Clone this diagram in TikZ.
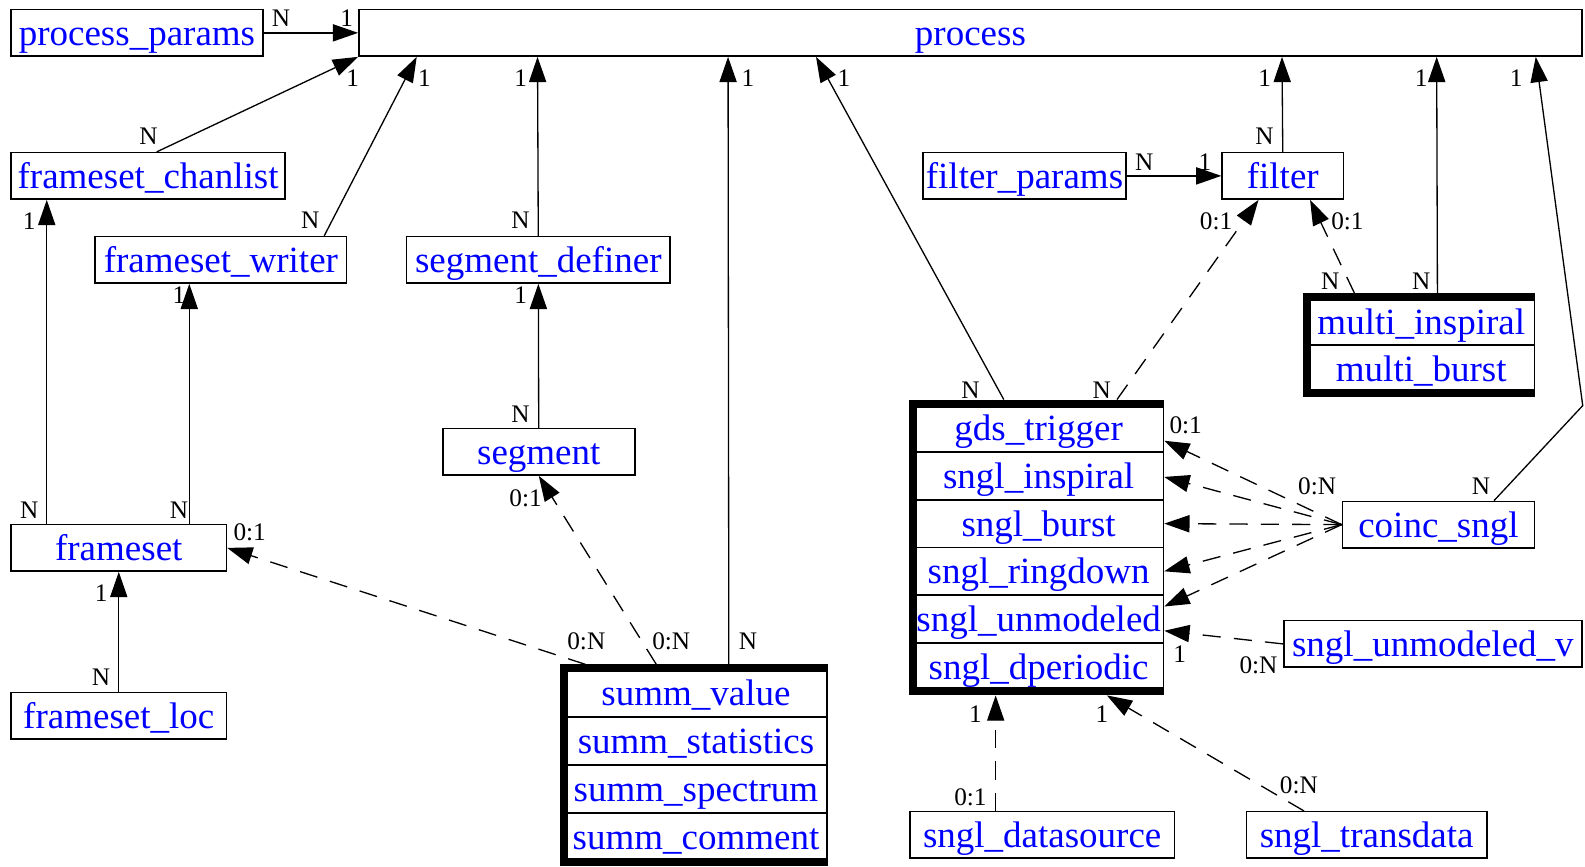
\documentclass[tikz,border=0pt]{standalone}
\usepackage{fontspec}
\setmainfont{Liberation Serif}
\usetikzlibrary{arrows.meta,calc}

\tikzset{
  tab/.style={draw, line width=1.5pt, minimum height=46pt, inner sep=0pt, text height=34pt, text depth=9pt, text=blue, font=\fontsize{36.6}{40}\selectfont},
  tabrow/.style={tab, minimum height=#1},
  fk/.style={-{Triangle[length=25pt,width=17pt]}, line width=1.3pt},
  opt/.style={fk, dash pattern=on 18pt off 13pt},
  lab/.style={inner sep=0pt, font=\fontsize{25}{28}\selectfont},
  frame/.style={line width=8pt}
}

\begin{document}
\begin{tikzpicture}[x=1pt, y=-1pt]
\useasboundingbox (0,0) rectangle (1568,857);

% plain tables
\node (pp)     [tab, minimum width=249pt]  at (135.5,32.5) {process\_params};
\node (proc)   [tab, minimum width=1210pt] at (960,32.5)   {process};
\node (chan)   [tab, minimum width=271pt]  at (146.5,174)  {frameset\_chanlist};
\node (writer) [tab, minimum width=249pt]  at (218.5,257)  {frameset\_writer};
\node (segdef) [tab, minimum width=261pt]  at (532.5,257)  {segment\_definer};
\node (seg)    [tab, minimum width=190pt]  at (533,447)    {segment};
\node (fs)     [tab, minimum width=213pt]  at (117.5,542)  {frameset};
\node (fsloc)  [tab, minimum width=213pt]  at (117.5,708)  {frameset\_loc};
\node (fparams)[tab, minimum width=201pt]  at (1013.5,174) {filter\_params};
\node (filter) [tab, minimum width=120pt]  at (1269,174)   {filter};
\node (coinc)  [tab, minimum width=190pt]  at (1423,519)   {coinc\_sngl};
\node (unmodv) [tab, minimum width=295pt]  at (1417.5,637) {sngl\_unmodeled\_v};
\node (dsrc)   [tab, minimum width=262pt]  at (1031,826)   {sngl\_datasource};
\node (trans)  [tab, minimum width=238pt]  at (1352,826)   {sngl\_transdata};

% grouped tables
\node (minsp) [tabrow=46.5pt, minimum width=224pt] at (1406,318.25) {multi\_inspiral};
\node (mburst)[tabrow=46.5pt, minimum width=224pt] at (1406,364.75) {multi\_burst};

\node (gds)      [tabrow=47.2pt, minimum width=247pt] at (1027.5,423.6) {gds\_trigger};
\node (inspiral) [tabrow=47.2pt, minimum width=247pt] at (1027.5,470.8) {sngl\_inspiral};
\node (burst)    [tabrow=47.2pt, minimum width=247pt] at (1027.5,518)   {sngl\_burst};
\node (ring)     [tabrow=47.2pt, minimum width=247pt] at (1027.5,565.2) {sngl\_ringdown};
\node (unmod)    [tabrow=47.2pt, minimum width=247pt] at (1027.5,612.4) {sngl\_unmodeled};
\node (dper)     [tabrow=47.2pt, minimum width=247pt] at (1027.5,659.6) {sngl\_dperiodic};

\node (value) [tabrow=47.5pt, minimum width=259pt] at (688.5,685.75) {summ\_value};
\node (stats) [tabrow=47.5pt, minimum width=259pt] at (688.5,733.25) {summ\_statistics};
\node (spec)  [tabrow=47.5pt, minimum width=259pt] at (688.5,780.75) {summ\_spectrum};
\node (comm)  [tabrow=47.5pt, minimum width=259pt] at (688.5,828.25) {summ\_comment};

\draw[frame] (minsp.north east) -- (minsp.north west) -- (mburst.south west) -- (mburst.south east);
\draw[frame] (gds.north east) -- (gds.north west) -- (dper.south west) -- (dper.south east);
\draw[frame] (value.north east) -- (value.north west) -- (comm.south west) -- (comm.south east);

% references to process
\path (pp) edge[fk] (proc)
      ([xshift=8.5pt]chan.north) edge[fk] (proc.south west)
      ([xshift=-23pt]writer.north east) edge[fk] ([xshift=58pt]proc.south west)
      (segdef.north) edge[fk] ([xshift=177.5pt]proc.south west)
      ([xshift=32.5pt,yshift=4pt]value.north) edge[fk] ([xshift=366pt]proc.south west)
      ([xshift=-34.5pt,yshift=4pt]gds.north) edge[fk] ([xshift=453pt]proc.south west)
      (filter.north) edge[fk] ([xshift=914pt]proc.south west)
      ([xshift=16pt,yshift=4pt]minsp.north) edge[fk] ([xshift=1067pt]proc.south west);
\draw[fk] ([xshift=55pt]coinc.north) -- ($(proc.south east)+(0,345)$) -- ([xshift=1165pt]proc.south west);

% other solid links
\path (fparams) edge[fk] (filter)
      ([xshift=36pt]fs.north west) edge[fk] ([xshift=36pt]chan.south west)
      ([xshift=177pt]fs.north west) edge[fk] ([xshift=94pt]writer.south west)
      (seg) edge[fk] (segdef)
      (fsloc) edge[fk] (fs);

% optional links
\path ([xshift=21pt,yshift=4pt]value.north west) edge[opt] (fs.east)
      ([xshift=91pt,yshift=4pt]value.north west) edge[opt] (seg.south)
      ([xshift=77.5pt,yshift=4pt]gds.north) edge[opt] ([xshift=-24pt]filter.south)
      ([xshift=-66pt,yshift=4pt]minsp.north) edge[opt] ([xshift=27pt]filter.south)
      (coinc.west) edge[opt] ([yshift=-12.4pt]gds.east)
      (coinc.west) edge[opt] ([yshift=-1pt]inspiral.east)
      (coinc.west) edge[opt] (burst.east)
      (coinc.west) edge[opt] (ring.east)
      (coinc.west) edge[opt] ([yshift=12.4pt]unmod.east)
      (unmodv.west) edge[opt] ([yshift=-11.6pt]unmod.east)
      ([xshift=-46pt]dsrc.north) edge[opt] ([xshift=-42.5pt,yshift=-4pt]dper.south)
      ([xshift=-62pt]trans.north) edge[opt] ([xshift=67.5pt,yshift=-4pt]dper.south);

% cardinalities
\node (l1)  [lab] at (278,18)   {N};
\node (l2)  [lab] at (343,18)   {1};
\node (l3)  [lab] at (147,135)  {N};
\node (l4)  [lab] at (349,77)   {1};
\node (l5)  [lab] at (307,218)  {N};
\node (l6)  [lab] at (420,77)   {1};
\node (l7)  [lab] at (515,218)  {N};
\node (l8)  [lab] at (515,77)   {1};
\node (l9)  [lab] at (740,634)  {N};
\node (l10) [lab] at (740,77)   {1};
\node (l11) [lab] at (960,386)  {N};
\node (l12) [lab] at (835,77)   {1};
\node (l13) [lab] at (1251,135) {N};
\node (l14) [lab] at (1251,77)  {1};
\node (l15) [lab] at (1406,278) {N};
\node (l16) [lab] at (1406,77)  {1};
\node (l17) [lab] at (1465,481) {N};
\node (l18) [lab] at (1500,77)  {1};
\node (l19) [lab] at (1132,160) {N};
\node (l20) [lab] at (1192,160) {1};
\node (l21) [lab] at (29,505)   {N};
\node (l22) [lab] at (29,219)   {1};
\node (l23) [lab] at (177,505)  {N};
\node (l24) [lab] at (177,292)  {1};
\node (l25) [lab] at (515,410)  {N};
\node (l26) [lab] at (515,292)  {1};
\node (l27) [lab] at (100,670)  {N};
\node (l28) [lab] at (100,587)  {1};
\node (l29) [lab] at (580,634)  {0:N};
\node (l30) [lab] at (247,527)  {0:1};
\node (l31) [lab] at (664,634)  {0:N};
\node (l32) [lab] at (520,493)  {0:1};
\node (l33) [lab] at (1090,386) {N};
\node (l34) [lab] at (1203,219) {0:1};
\node (l35) [lab] at (1316,278) {N};
\node (l36) [lab] at (1333,219) {0:1};
\node (l37) [lab] at (1173,421) {0:1};
\node (l38) [lab] at (1303,481) {0:N};
\node (l39) [lab] at (1167,647) {1};
\node (l40) [lab] at (1245,658) {0:N};
\node (l41) [lab] at (965,706)  {1};
\node (l42) [lab] at (960,789)  {0:1};
\node (l43) [lab] at (1090,706) {1};
\node (l44) [lab] at (1285,777) {0:N};
\end{tikzpicture}
\end{document}
